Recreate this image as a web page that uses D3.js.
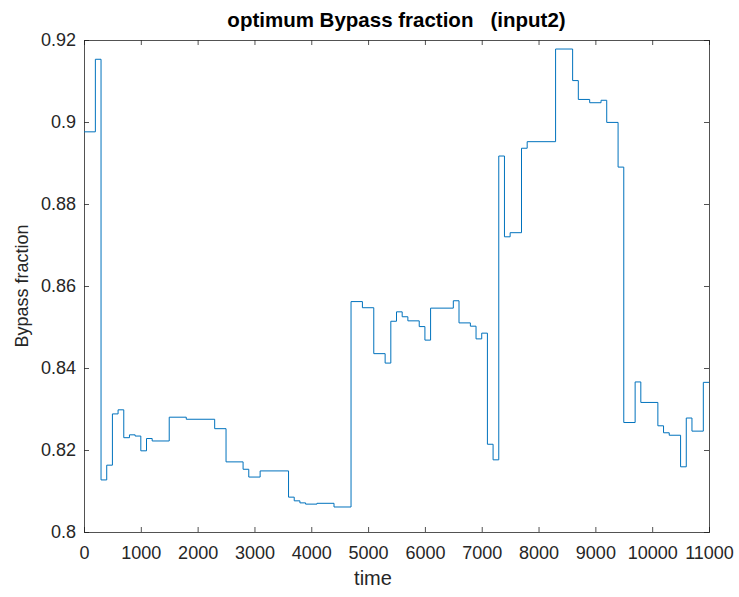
<!DOCTYPE html>
<html>
<head>
<meta charset="utf-8">
<script src="https://cdn.jsdelivr.net/npm/d3@7"></script>
<style>
  html, body { margin: 0; padding: 0; background: #fff; }
  svg { display: block; font-family: "Liberation Sans", Arial, Helvetica, sans-serif; }
</style>
</head>
<body>
<div id="chart"></div>
<script>
// step start times and the bypass value held from that time on
const times = [0, 200, 300, 400, 500, 600, 700, 800, 900, 1000, 1100, 1200, 1500, 1800, 2300, 2500,
  2800, 2900, 3100, 3600, 3700, 3800, 3900, 4100, 4400, 4700, 4900, 5100, 5300, 5400, 5500, 5600,
  5700, 5900, 6000, 6100, 6500, 6600, 6800, 6900, 7000, 7100, 7200, 7300, 7400, 7500, 7700, 7800,
  8300, 8600, 8700, 8900, 9100, 9200, 9400, 9500, 9700, 9800, 10100, 10200, 10300, 10500, 10600,
  10700, 10900]
const bypass = [0.8976, 0.9153, 0.8127, 0.8163, 0.8288, 0.8298, 0.8230, 0.8237, 0.8234, 0.8198, 0.8228,
  0.8222, 0.8280, 0.8275, 0.8252, 0.8171, 0.8153, 0.8134, 0.8149, 0.8085, 0.8076, 0.8071, 0.8068,
  0.8070, 0.8061, 0.8562, 0.8547, 0.8435, 0.8412, 0.8514, 0.8537, 0.8525, 0.8515, 0.8501, 0.8468,
  0.8546, 0.8564, 0.8510, 0.8502, 0.8471, 0.8485, 0.8214, 0.8176, 0.8917, 0.8720, 0.8730, 0.8936,
  0.8952, 0.9178, 0.9101, 0.9055, 0.9047, 0.9053, 0.8999, 0.8890, 0.8267, 0.8366, 0.8316, 0.8259,
  0.8242, 0.8236, 0.8159, 0.8278, 0.8246, 0.8365]
const endTime = 11000
const xTicks = [0, 1000, 2000, 3000, 4000, 5000, 6000, 7000, 8000, 9000, 10000, 11000]
const yTicks = [0.8, 0.82, 0.84, 0.86, 0.88, 0.9, 0.92]

const width = 739
const height = 597
const margin = { top: 40, right: 30, bottom: 65, left: 84 }
const w = width - margin.left - margin.right
const h = height - margin.top - margin.bottom
const axisColor = '#262626'

const svg = d3.select('#chart')
  .append('svg')
  .attr('width', width)
  .attr('height', height)

const x = d3.scaleLinear().domain([0, 11000]).range([0, w])
const y = d3.scaleLinear().domain([0.8, 0.92]).range([h, 0])

const g = svg.append('g')
  .attr('transform', `translate(${margin.left},${margin.top})`)

// box with inward ticks on all four sides
const tickLen = 5
function styleAxis(sel) {
  sel.select('.domain').attr('stroke', axisColor).attr('stroke-width', 0.8)
  sel.selectAll('.tick line').attr('stroke', axisColor).attr('stroke-width', 0.8)
  sel.selectAll('.tick text').attr('fill', axisColor).style('font-size', '18px')
}

g.append('g')
  .attr('transform', `translate(0,${h})`)
  .call(d3.axisBottom(x).tickValues(xTicks).tickSize(-tickLen).tickPadding(14).tickFormat(d3.format('d')))
  .call(styleAxis)
g.append('g')
  .call(d3.axisTop(x).tickValues(xTicks).tickSize(-tickLen).tickFormat(''))
  .call(styleAxis)
g.append('g')
  .call(d3.axisLeft(y).tickValues(yTicks).tickSize(-tickLen).tickPadding(8).tickFormat(d => String(+d.toFixed(2))))
  .call(styleAxis)
g.append('g')
  .attr('transform', `translate(${w},0)`)
  .call(d3.axisRight(y).tickValues(yTicks).tickSize(-tickLen).tickFormat(''))
  .call(styleAxis)

// stairs line
const pts = times.map((t, i) => [t, bypass[i]])
pts.push([endTime, bypass[bypass.length - 1]])

const line = d3.line()
  .x(d => x(d[0]))
  .y(d => y(d[1]))
  .curve(d3.curveStepAfter)

g.append('path')
  .datum(pts)
  .attr('fill', 'none')
  .attr('stroke', '#0072BD')
  .attr('stroke-width', 1)
  .attr('d', line)

// labels
svg.append('text')
  .attr('x', margin.left + w / 2)
  .attr('y', 27)
  .attr('text-anchor', 'middle')
  .style('font-size', '20.5px')
  .style('font-weight', 'bold')
  .style('white-space', 'pre')
  .attr('fill', '#000')
  .text('optimum Bypass fraction   (input2)')

svg.append('text')
  .attr('x', 373)
  .attr('y', 585)
  .attr('text-anchor', 'middle')
  .style('font-size', '20px')
  .attr('fill', axisColor)
  .text('time')

svg.append('text')
  .attr('transform', `translate(28,${margin.top + h / 2}) rotate(-90)`)
  .attr('text-anchor', 'middle')
  .style('font-size', '18px')
  .attr('fill', axisColor)
  .text('Bypass fraction')
</script>
</body>
</html>
